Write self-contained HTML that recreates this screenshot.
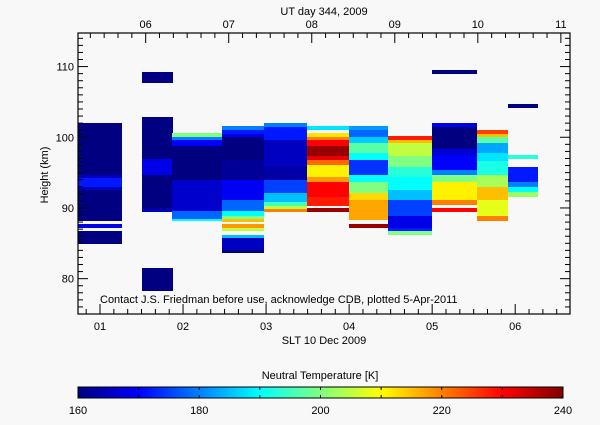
<!DOCTYPE html>
<html><head><meta charset="utf-8"><style>
body{margin:0;background:#f8f8f8;}
svg text{font-family:"Liberation Sans",sans-serif;font-size:11px;fill:#000;}
#cells rect{shape-rendering:crispEdges;}
</style></head><body>
<svg id="chart" width="600" height="420" viewBox="0 0 600 420" xmlns="http://www.w3.org/2000/svg">
<rect width="600" height="420" fill="#f8f8f8"/>
<defs>
<linearGradient id="jet" x1="0" x2="1" y1="0" y2="0">
<stop offset="0" stop-color="rgb(0,0,128)"/><stop offset="0.125" stop-color="rgb(0,0,255)"/>
<stop offset="0.375" stop-color="rgb(0,255,255)"/><stop offset="0.625" stop-color="rgb(255,255,0)"/>
<stop offset="0.875" stop-color="rgb(255,0,0)"/><stop offset="1" stop-color="rgb(128,0,0)"/>
</linearGradient>
</defs>
<g id="cells"></g>
<g id="axes"></g>
<text x="100" y="303">Contact J.S. Friedman before use, acknowledge CDB, plotted 5-Apr-2011</text>
<text x="324" y="15" text-anchor="middle">UT day 344, 2009</text>
<text x="324" y="344" text-anchor="middle">SLT 10 Dec 2009</text>
<text x="48" y="175" text-anchor="middle" transform="rotate(-90 48 175)">Height (km)</text>
<text x="320" y="379" text-anchor="middle" font-size="12">Neutral Temperature [K]</text>
<rect x="78" y="387" width="485" height="11" fill="url(#jet)" stroke="#000" stroke-width="1"/>
<g id="cbticks"></g>
</svg>
<script>
const colStart=[0.735,1.506,1.867,2.47,2.976,3.494,4.0,4.47,5.0,5.542,5.916];
const colEnd=[1.265,1.88,2.47,2.976,3.494,4.0,4.47,5.0,5.542,5.916,6.277];
const segTop=[
[102.0,94.7,94.2,93.0,92.5,87.7,86.7],
[109.2,102.9,96.9,94.7,89.9,81.5],
[100.6,100.1,99.6,98.8,94.0,89.5,88.5],
[101.6,101.0,100.5,100.1,96.8,94.0,91.1,89.5,88.8,88.4,87.7,87.1,86.2,85.8,84.1],
[102.0,101.5,99.6,95.8,94.0,92.1,90.9,90.3,89.9],
[101.6,100.6,100.1,99.6,98.8,97.4,96.8,96.1,94.4,93.7,91.6,90.0],
[101.6,101.0,100.1,99.2,97.8,96.8,94.7,93.7,92.1,91.1,87.7],
[100.2,99.6,99.2,97.3,95.8,94.4,92.5,91.1,88.8,87.1,86.7],
[109.5,102.0,101.5,98.3,97.3,95.3,94.7,93.7,91.1,90.0],
[101.0,100.5,100.0,99.2,97.8,96.6,94.7,93.0,91.1,88.8],
[104.7,97.5,95.8,93.7,93.0,92.3]];
const segBot=[
[94.7,94.2,93.0,92.5,88.1,87.1,84.9],
[107.7,96.9,94.7,89.9,89.4,78.3],
[100.1,99.6,98.8,94.0,89.5,88.5,88.1],
[101.0,100.5,100.1,96.8,94.0,91.1,89.5,88.8,88.4,88.0,87.1,86.7,85.8,84.1,83.6],
[101.5,99.6,95.8,94.0,92.1,90.9,90.3,89.9,89.4],
[101.0,100.1,99.6,98.8,97.4,96.8,96.1,94.4,93.7,91.6,90.3,89.4],
[101.0,100.1,99.2,97.8,96.8,94.7,93.7,92.1,91.1,88.3,87.2],
[99.6,99.2,97.3,95.8,94.4,92.5,91.1,88.8,87.1,86.7,86.2],
[108.9,101.5,98.3,97.3,95.3,94.7,93.7,91.1,90.4,89.4],
[100.5,100.0,99.2,97.8,96.6,94.7,93.0,91.1,88.8,88.1],
[104.2,96.9,93.7,93.0,92.3,91.6]];
const segTemp=[
[160,165,172,165,160,168,160],
[160,160,168,160,165,160],
[200,180,170,160,166,178,190],
[180,172,168,160,162,169,178,190,200,215,218,205,185,165,160],
[180,172,165,163,175,185,195,205,220],
[188,212,220,230,238,232,222,211,218,230,228,238],
[182,178,186,197,190,174,190,200,213,217,238],
[228,215,205,200,193,190,185,175,168,172,200],
[160,168,160,167,170,180,200,211,220,230],
[225,215,197,183,188,192,203,215,208,220],
[160,193,172,180,190,202]];
const xTicks=[1,2,3,4,5,6];
const xTickLabels=['01','02','03','04','05','06'];
const utTicks=[6,7,8,9,10,11];
const utLabels=['06','07','08','09','10','11'];
const yTicks=[80,90,100,110];
const cbTicks=[160,180,200,220,240];

const X0=78,X1=570,Y0=33,Y1=314,SLT0=0.735,SLT1=6.66,H0=75,H1=114.75;
const sx=v=>X0+(v-SLT0)/(SLT1-SLT0)*(X1-X0);
const sy=h=>Y1-(h-H0)/(H1-H0)*(Y1-Y0);
const utOffset=-5+0.55;
const NS='http://www.w3.org/2000/svg';
function jet(T){
  const t=Math.max(0,Math.min(1,(T-160)/80));
  const st=[[0,0,0,128],[.125,0,0,255],[.375,0,255,255],[.625,255,255,0],[.875,255,0,0],[1,128,0,0]];
  for(let i=1;i<st.length;i++){if(t<=st[i][0]){const a=st[i-1],b=st[i],f=(t-a[0])/(b[0]-a[0]);
    return `rgb(${Math.round(a[1]+f*(b[1]-a[1]))},${Math.round(a[2]+f*(b[2]-a[2]))},${Math.round(a[3]+f*(b[3]-a[3]))})`;}}
  return 'rgb(128,0,0)';
}
function mk(tag,attrs,parent){const e=document.createElementNS(NS,tag);for(const k in attrs)e.setAttribute(k,attrs[k]);parent.appendChild(e);return e;}
const cells=document.getElementById('cells');
for(let c=0;c<colStart.length;c++){
  for(let s=0;s<segTemp[c].length;s++){
    const x=Math.round(sx(colStart[c])),w=Math.round(sx(colEnd[c]))-x,y=Math.round(sy(segTop[c][s])),h=Math.round(sy(segBot[c][s]))-y;
    const r=mk('rect',{x:x,y:y,width:w,height:Math.max(h,1),fill:jet(segTemp[c][s])},cells);
    
    
  }
}
const ax=document.getElementById('axes');
const frame=mk('rect',{x:X0,y:Y0,width:X1-X0,height:Y1-Y0,fill:'none',stroke:'#000','stroke-width':1.2},ax);


for(let h=76;h<=114;h++){
  const major=h%10===0,L=major?10:5,y=sy(h);
  mk('line',{x1:X0,x2:X0+L,y1:y,y2:y,stroke:'#000'},ax);
  mk('line',{x1:X1,x2:X1-L,y1:y,y2:y,stroke:'#000'},ax);
}
yTicks.forEach(v=>{const t=mk('text',{x:X0-4,y:sy(v)+4,'text-anchor':'end'},ax);t.textContent=String(v);
  
  });
for(let m=Math.ceil(SLT0*6);m<=SLT1*6;m++){
  const v=m/6,major=m%6===0,L=major?10:5,x=sx(v);
  mk('line',{x1:x,x2:x,y1:Y1,y2:Y1-L,stroke:'#000'},ax);
}
xTicks.forEach((v,i)=>{const t=mk('text',{x:sx(v),y:Y1+16,'text-anchor':'middle'},ax);t.textContent=xTickLabels[i];
  
  });
for(let m=Math.ceil((SLT0-utOffset)*6);m<=(SLT1-utOffset)*6;m++){
  const v=m/6+utOffset,major=m%6===0,L=major?10:5,x=sx(v);
  mk('line',{x1:x,x2:x,y1:Y0,y2:Y0+L,stroke:'#000'},ax);
}
utTicks.forEach((v,i)=>{const t=mk('text',{x:sx(v+utOffset),y:Y0-5,'text-anchor':'middle'},ax);t.textContent=utLabels[i];
  
  });
const cb=document.getElementById('cbticks');
for(let v=170;v<240;v+=10){const x=78+(v-160)/80*485;mk('line',{x1:x,x2:x,y1:387,y2:390,stroke:'#000'},cb);mk('line',{x1:x,x2:x,y1:398,y2:395,stroke:'#000'},cb);}
cbTicks.forEach(v=>{const t=mk('text',{x:78+(v-160)/80*485,y:414,'text-anchor':'middle'},cb);t.textContent=String(v);
  
  });
</script>
</body></html>
